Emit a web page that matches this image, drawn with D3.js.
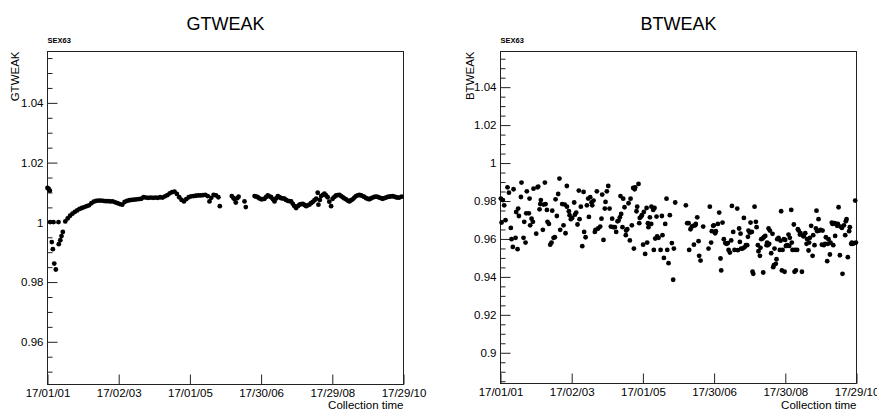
<!DOCTYPE html>
<html><head><meta charset="utf-8">
<script src="https://cdn.jsdelivr.net/npm/d3@7"></script>
<style>
body{margin:0;background:#fff}
svg{display:block}
text{font-family:"Liberation Sans",Arial,Helvetica,sans-serif;fill:#000}
</style>
</head><body>
<svg id="chart" width="877" height="420"></svg>
<script>
// ---------- DATA ----------
const xTickDays = [0, 60, 120, 180, 240, 300];
const gtXTickLabels = ["17/01/01", "17/02/03", "17/01/05", "17/30/06", "17/29/08", "17/29/10"];
const btXTickLabels = ["17/01/01", "17/02/03", "17/01/05", "17/30/06", "17/30/08", "17/29/10"];
const gtYTicks = [0.96, 0.98, 1, 1.02, 1.04];
const btYTicks = [0.9, 0.92, 0.94, 0.96, 0.98, 1, 1.02, 1.04];

const gtDay = [0,1,2,2.2,3.6,4.5,5.0,5.7,7.0,9.3,9.5,10.8,11.8,12.9,
15,17,19,21,23,25,27,29,31,33,35,37,39,41,43,45,47,49,51,53,55,57,59,61,63,65,67,69,71,73,75,77,79,81,83,85,87,89,91,93,95,97,99,101,103,105,107,109,111,113,115,117,119,121,123,125,127,129,131,133,135,136.5,138,140,142,144,145.2,
155.3,156.5,157.6,158.7,159.9,161,166.0,167.1,
174.5,176,177.2,178.6,180.1,181.5,182.9,184.3,185.6,187,188.5,190,191.3,192.7,194.1,195.5,196.9,198.3,199.7,201,202.5,204,205.3,206.7,208.1,209.5,211,212.3,213.7,215.1,216.5,218.0,219.3,220.7,222,223.5,225,226.4,227.7,228.3,229.5,230.6,232,233.4,234.8,236.1,237.5,239.0,240.3,241.8,243.2,244.6,246.0,247.4,248.8,250.2,251.6,253,254.4,255.8,257.2,258.6,260.0,261.4,262.8,264.2,265.6,267,268.5,269.8,271.2,272.6,274.0,275.5,276.9,278.2,279.6,281,282.4,283.8,285.3,286.7,288.1,289.5,290.8,292.2,293.7,295.1,296.5,298.4];
const gtValue = [1.0115,1.0112,1.0106,1.0001,0.9934,0.9910,1.0001,0.9862,0.9842,1.0001,0.9927,0.9940,0.9954,0.9968,
1.0003,1.0013,1.0022,1.0029,1.0035,1.0040,1.0045,1.0048,1.0051,1.0054,1.0057,1.0064,1.0069,1.0072,1.0073,1.0073,1.0072,1.0071,1.0071,1.0070,1.0070,1.0067,1.0064,1.0061,1.0059,1.0068,1.0072,1.0074,1.0075,1.0076,1.0077,1.0078,1.0079,1.0084,1.0083,1.0082,1.0083,1.0082,1.0083,1.0082,1.0084,1.0083,1.0087,1.0091,1.0097,1.0101,1.0103,1.0095,1.0084,1.0075,1.0070,1.0078,1.0084,1.0087,1.0088,1.0089,1.0090,1.0090,1.0091,1.0092,1.0088,1.0070,1.0082,1.0092,1.0090,1.0084,1.0054,
1.0088,1.0082,1.0077,1.0066,1.0081,1.0086,1.0070,1.0051,
1.0088,1.0086,1.0084,1.0080,1.0077,1.0078,1.0079,1.0085,1.0090,1.0087,1.0084,1.0077,1.0070,1.0080,1.0088,1.0084,1.0081,1.0080,1.0079,1.0075,1.0072,1.0071,1.0070,1.0062,1.0054,1.0048,1.0054,1.0059,1.0061,1.0062,1.0058,1.0054,1.0057,1.0059,1.0064,1.0068,1.0074,1.0079,1.0099,1.0059,1.0075,1.0088,1.0092,1.0096,1.0090,1.0084,1.0069,1.0054,1.0079,1.0085,1.0090,1.0091,1.0092,1.0088,1.0084,1.0080,1.0077,1.0073,1.0070,1.0074,1.0077,1.0083,1.0088,1.0090,1.0092,1.0090,1.0088,1.0085,1.0081,1.0079,1.0077,1.0080,1.0083,1.0085,1.0086,1.0085,1.0083,1.0081,1.0079,1.0081,1.0083,1.0085,1.0086,1.0087,1.0088,1.0086,1.0084,1.0083,1.0083,1.0086];

const btDay = [0.3,2.0,3.1,0.9,4.2,5.9,7.1,8.7,9.3,10.4,11.0,12.7,13.2,14.4,14.9,15.5,17.2,17.7,19.4,20.0,21.1,21.7,22.2,23.9,24.5,25.0,26.2,27.3,27.8,30.1,31.2,31.8,32.9,33.5,34.0,35.7,36.3,37.4,38.0,39.1,39.6,40.8,41.9,43.0,43.6,44.7,45.8,46.4,47.5,48.6,49.7,50.3,52.0,53.1,54.2,54.8,55.9,56.0,57.6,58.2,59.3,60.4,62.1,62.7,63.8,64.9,66.0,66.6,67.7,68.9,70.0,70.5,71.7,72.8,73.9,74.5,75.6,76.7,77.3,78.4,79.5,80.1,81.2,82.3,84.0,85.1,85.7,86.8,87.9,88.5,89.6,90.8,91.9,93.0,94.1,95.2,96.4,97.5,98.6,
99.5,100.6,101.1,101.7,102.8,103.4,104.5,105.6,105.9,106.8,107.9,109.0,109.6,110.7,111.8,112.4,113.0,113.5,114.6,115.2,116.3,116.9,117.4,118.6,119.1,120.2,120.8,121.9,123.1,123.6,124.2,124.7,125.9,127.0,127.2,128.7,129.2,129.8,130.4,131.5,132.0,133.2,134.9,136.0,136.5,137.7,138.8,139.9,140.5,141.6,142.7,144.4,145.5,146.1,147.2,156.2,157.3,158.5,159.0,160.1,161.3,162.4,163.0,164.1,164.6,165.8,166.9,167.4,168.6,170.8,175.3,176.4,177.5,178.1,179.2,179.8,180.9,181.5,183.2,184.3,185.4,186.0,187.1,188.2,189.4,190.5,191.6,192.2,193.3,194.4,195.0,196.1,197.2,
199.5,200.0,201.1,201.7,202.3,202.8,204.0,205.1,205.6,206.8,207.9,208.5,209.0,210.1,210.7,211.8,212.4,213.0,214.1,215.2,215.8,216.9,217.4,218.6,219.1,219.7,220.8,221.4,221.9,223.1,224.2,224.7,225.3,225.9,226.4,227.0,228.1,229.2,229.8,230.4,230.9,232.0,232.6,233.2,234.3,235.4,236.0,236.5,237.1,237.7,238.8,239.4,239.9,240.5,241.0,241.6,242.7,243.3,243.8,245.0,245.5,246.1,247.2,247.8,248.3,248.9,250.0,250.6,251.2,252.3,252.8,254.0,255.1,255.6,256.8,257.9,258.5,259.6,260.1,260.7,261.8,263.0,263.5,264.6,265.8,266.3,266.9,268.0,268.6,269.7,270.8,271.4,272.5,273.6,274.2,275.3,275.9,276.4,277.6,278.1,279.2,279.8,280.4,281.5,282.0,282.6,283.7,284.3,284.9,286.0,286.5,287.7,288.2,289.4,290.5,291.0,291.6,292.7,293.8,294.4,295.5,296.1,296.7,297.8,298.9,299.5];
const btValue = [0.9813,0.9805,0.9777,0.9686,0.9699,0.9872,0.9844,0.9658,0.9599,0.9558,0.9862,0.9606,0.9742,0.9546,0.9760,0.9721,0.9821,0.9897,0.9606,0.9690,0.9581,0.9735,0.9851,0.9735,0.9813,0.9672,0.9707,0.9690,0.9865,0.9628,0.9872,0.9876,0.9756,0.9784,0.9805,0.9648,0.9781,0.9897,0.9784,0.9753,0.9690,0.9679,0.9570,0.9581,0.9749,0.9606,0.9609,0.9809,0.9721,0.9837,0.9918,0.9648,0.9784,0.9672,0.9781,0.9630,0.9879,0.9770,0.9746,0.9725,0.9704,0.9711,0.9792,0.9728,0.9739,0.9676,0.9855,0.9704,0.9770,0.9562,0.9848,0.9637,0.9609,0.9777,0.9813,0.9716,0.9820,0.9792,0.9777,0.9802,0.9637,0.9648,0.9851,0.9655,0.9665,0.9707,0.9834,0.9595,0.9760,0.9795,0.9851,0.9879,0.9760,0.9665,0.9707,0.9662,0.9662,0.9637,0.9693,
0.9697,0.9714,0.9826,0.9732,0.9662,0.9812,0.9767,0.9620,0.9644,0.9651,0.9788,0.9592,0.9812,0.9672,0.9869,0.9549,0.9862,0.9872,0.9746,0.9770,0.9890,0.9683,0.9711,0.9718,0.9725,0.9570,0.9742,0.9521,0.9763,0.9581,0.9683,0.9662,0.9714,0.9679,0.9770,0.9753,0.9542,0.9763,0.9602,0.9718,0.9613,0.9606,0.9542,0.9721,0.9620,0.9500,0.9679,0.9812,0.9542,0.9472,0.9725,0.9578,0.9385,0.9549,0.9792,0.9777,0.9683,0.9683,0.9542,0.9651,0.9665,0.9669,0.9570,0.9672,0.9679,0.9714,0.9588,0.9511,0.9486,0.9665,0.9549,0.9770,0.9581,0.9641,0.9669,0.9672,0.9630,0.9641,0.9679,0.9739,0.9497,0.9434,0.9686,0.9599,0.9578,0.9574,0.9578,0.9542,0.9528,0.9592,0.9774,0.9637,0.9542,
0.9760,0.9541,0.9655,0.9584,0.9628,0.9549,0.9549,0.9711,0.9556,0.9567,0.9567,0.9611,0.9644,0.9633,0.9686,0.9637,0.9427,0.9416,0.9770,0.9690,0.9662,0.9567,0.9535,0.9511,0.9553,0.9599,0.9602,0.9423,0.9609,0.9616,0.9567,0.9581,0.9567,0.9655,0.9574,0.9644,0.9525,0.9627,0.9451,0.9462,0.9549,0.9469,0.9493,0.9599,0.9606,0.9542,0.9591,0.9746,0.9434,0.9542,0.9599,0.9427,0.9595,0.9563,0.9563,0.9567,0.9623,0.9563,0.9606,0.9753,0.9581,0.9542,0.9676,0.9427,0.9542,0.9434,0.9542,0.9651,0.9644,0.9623,0.9630,0.9427,0.9616,0.9613,0.9630,0.9574,0.9599,0.9539,0.9581,0.9606,0.9669,0.9511,0.9620,0.9567,0.9655,0.9749,0.9641,0.9704,0.9644,0.9648,0.9570,0.9644,0.9567,0.9574,0.9609,0.9483,0.9574,0.9599,0.9518,0.9581,0.9686,0.9679,0.9567,0.9683,0.9616,0.9679,0.9669,0.9679,0.9767,0.9514,0.9665,0.9658,0.9416,0.9672,0.9620,0.9693,0.9704,0.9504,0.9641,0.9662,0.9574,0.9581,0.9574,0.9577,0.9802,0.9581];

// ---------- DRAW ----------
const svg = d3.select("#chart");
svg.append("rect").attr("width", 877).attr("height", 420).attr("fill", "#fff");

function panel(cfg) {
  const g = svg.append("g");
  const x = d3.scaleLinear().domain([0, 300]).range([cfg.x0, cfg.x1]);
  const y = d3.scaleLinear().domain(cfg.yDomain).range([cfg.y1, cfg.y0]);

  // minor y ticks every 0.005
  const lo = cfg.yDomain[0], hi = cfg.yDomain[1];
  const minor = d3.range(Math.ceil(lo / 0.005 - 1e-9), Math.floor(hi / 0.005 + 1e-9) + 1)
    .map(k => +(k * 0.005).toFixed(4))
    .filter(v => !cfg.yTicks.some(t => Math.abs(t - v) < 1e-6));

  g.append("g").attr("transform", `translate(${cfg.x0},0)`)
    .call(d3.axisLeft(y).tickValues(minor).tickSize(-5).tickFormat(""))
    .call(a => a.select(".domain").remove())
    .selectAll("line").attr("stroke", "#222");

  const ya = g.append("g").attr("transform", `translate(${cfg.x0},0)`)
    .call(d3.axisLeft(y).tickValues(cfg.yTicks).tickSize(-10).tickPadding(4)
      .tickFormat(d3.format("~g")))
    .call(a => a.select(".domain").remove());
  ya.selectAll("line").attr("stroke", "#222");
  ya.selectAll("text").attr("font-size", 11.5)
    .style("font-family", '"Liberation Sans",Arial,sans-serif').attr("fill", "#000");

  const xa = g.append("g").attr("transform", `translate(0,${cfg.y1})`)
    .call(d3.axisBottom(x).tickValues(xTickDays).tickSize(-10).tickPadding(4)
      .tickFormat((d, i) => cfg.xLabels[i]))
    .call(a => a.select(".domain").remove());
  xa.selectAll("line").attr("stroke", "#222");
  xa.selectAll("text").attr("font-size", 11.5)
    .style("font-family", '"Liberation Sans",Arial,sans-serif').attr("fill", "#000");

  // frame
  g.append("rect").attr("x", cfg.x0).attr("y", cfg.y0)
    .attr("width", cfg.x1 - cfg.x0).attr("height", cfg.y1 - cfg.y0)
    .attr("fill", "none").attr("stroke", "#222").attr("stroke-width", 1);

  // points
  const pts = cfg.days.map((d, i) => [d, cfg.values[i]]);
  g.append("g").selectAll("circle").data(pts).join("circle")
    .attr("cx", d => x(d[0])).attr("cy", d => y(d[1]))
    .attr("r", 2.4).attr("fill", "#000");

  // title
  g.append("text").attr("x", (cfg.x0 + cfg.x1) / 2).attr("y", 30)
    .attr("text-anchor", "middle").attr("font-size", 18).text(cfg.title);
  // small label
  g.append("text").attr("x", cfg.x0).attr("y", 42.5)
    .attr("font-size", 7.5).attr("font-weight", "bold").text("SEX63");
  // y title
  g.append("text").attr("transform", `translate(${cfg.yTitleX},${cfg.y0}) rotate(-90)`)
    .attr("text-anchor", "end").attr("font-size", 11.5).text(cfg.title);
  // x title
  g.append("text").attr("x", cfg.x1).attr("y", 409)
    .attr("text-anchor", "end").attr("font-size", 11.5).text("Collection time");
}

panel({x0: 47.5, x1: 403.5, y0: 51.5, y1: 384.5, yDomain: [0.9457, 1.0572],
  yTicks: gtYTicks, xLabels: gtXTickLabels, days: gtDay, values: gtValue,
  title: "GTWEAK", yTitleX: 19});
panel({x0: 500.5, x1: 856.5, y0: 51.5, y1: 383.5, yDomain: [0.8838, 1.0588],
  yTicks: btYTicks, xLabels: btXTickLabels, days: btDay, values: btValue,
  title: "BTWEAK", yTitleX: 474});
</script>
</body></html>
